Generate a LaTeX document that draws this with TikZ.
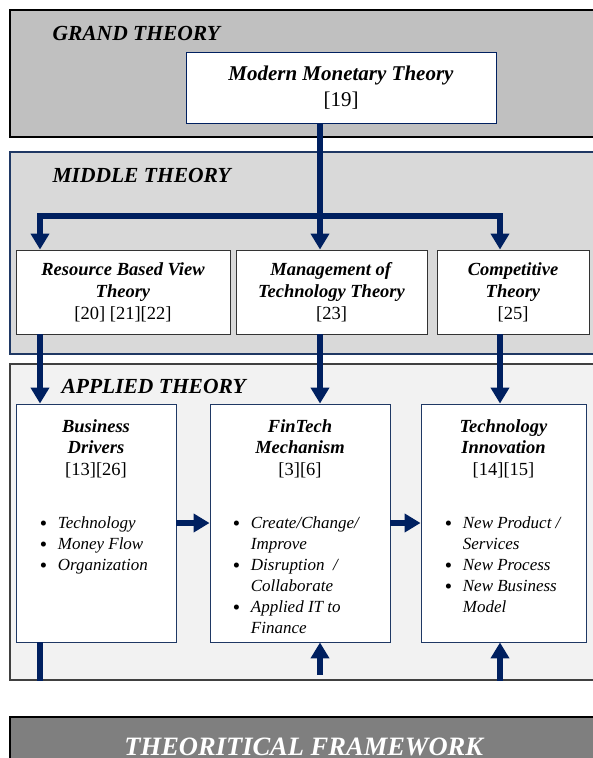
\documentclass[tikz,border=0pt]{standalone}
\usepackage{fontspec}
\setmainfont{Liberation Serif}
\usetikzlibrary{arrows.meta, positioning, calc}

\definecolor{navy}{HTML}{002060}
\definecolor{boxblue}{HTML}{1F3864}
\definecolor{grandgray}{HTML}{C0C0C0}
\definecolor{middlegray}{HTML}{D9D9D9}
\definecolor{appliedgray}{HTML}{F2F2F2}
\definecolor{framegray}{HTML}{7F7F7F}

\newcommand{\bul}{\raisebox{-2.5pt}{\fontsize{21}{21}\selectfont\textbullet}}

\begin{document}
\begin{tikzpicture}[
    x=1pt, y=-1pt,
    >={Triangle[width=18pt, length=16pt]},
    panel style/.style={rectangle, anchor=north west, inner sep=0pt, minimum width=588pt},
    box style/.style={rectangle, draw=boxblue, fill=white, line width=0.9pt, inner sep=0pt, align=center, font=\fontsize{18.5}{22}\selectfont},
    head style/.style={anchor=west, font=\fontsize{21.5}{24}\selectfont\bfseries\itshape},
    title style/.style={anchor=base, font=\fontsize{18.5}{21.5}\selectfont},
    list style/.style={anchor=base west, font=\fontsize{17}{21}\selectfont\itshape},
    flow style/.style={line width=5.5pt, navy, ->},
    flow line/.style={line width=5.5pt, navy}
]
\useasboundingbox (0,0) rectangle (592,758);

% Draw the panels
\node[panel style, draw=black, fill=grandgray, line width=2pt, minimum height=127pt] (grand) at (9,9) {};
\node[panel style, draw=boxblue, fill=middlegray, line width=2pt, minimum height=202pt] (middle) at (9,151) {};
\node[panel style, draw=black!75, fill=appliedgray, line width=1.5pt, minimum height=316pt] (applied) at (9,363) {};
\node[panel style, draw=black, fill=framegray, line width=1.5pt, minimum height=60pt, text=white,
      font=\fontsize{26.5}{30}\selectfont\bfseries\itshape] (frame) at (9,716) {THEORITICAL FRAMEWORK};

% Panel headings
\node[head style] (grandlbl) at (49,33) {GRAND THEORY};
\node[head style] (middlelbl) at (49,175) {MIDDLE THEORY};
\node[head style] (appliedlbl) at (58,386) {APPLIED THEORY};

% Grand theory box
\node[box style, draw=navy, minimum width=310pt, minimum height=71pt, font=\fontsize{21}{26}\selectfont] (mmt) at (341,87.5)
    {\textbf{\textit{Modern Monetary Theory}}\\{}[19]};

% Middle theory boxes
\node[box style, draw=black!80, minimum width=214pt, minimum height=84pt] (rbv) at (123,292)
    {\textbf{\textit{Resource Based View}}\\\textbf{\textit{Theory}}\\{}[20] [21][22]};
\node[box style, draw=black!80, minimum width=191pt, minimum height=84pt] (mtt) at (331.5,292)
    {\textbf{\textit{Management of}}\\\textbf{\textit{Technology Theory}}\\{}[23]};
\node[box style, draw=black!80, minimum width=152pt, minimum height=84pt] (ct) at (513,292)
    {\textbf{\textit{Competitive}}\\\textbf{\textit{Theory}}\\{}[25]};

% Applied theory boxes
\node[box style, minimum width=160pt, minimum height=238pt] (bd) at (96,523) {};
\node[box style, minimum width=180pt, minimum height=238pt] (fm) at (300,523) {};
\node[box style, minimum width=165pt, minimum height=238pt] (ti) at (503.5,523) {};

% Titles of the applied boxes
\node[title style] (bdtitle) at (bd.north |- 0,432)
    {\begin{tabular}[t]{@{}c@{}}\textbf{\textit{Business}}\\\textbf{\textit{Drivers}}\\{}[13][26]\end{tabular}};
\node[title style] (fmtitle) at (fm.north |- 0,432)
    {\begin{tabular}[t]{@{}c@{}}\textbf{\textit{FinTech}}\\\textbf{\textit{Mechanism}}\\{}[3][6]\end{tabular}};
\node[title style] (tititle) at (ti.north |- 0,432)
    {\begin{tabular}[t]{@{}c@{}}\textbf{\textit{Technology}}\\\textbf{\textit{Innovation}}\\{}[14][15]\end{tabular}};

% Bullet lists
\node[list style] (bdlist) at (36,528)
    {\begin{tabular}[t]{@{}l@{\hspace{11pt}}l@{}}\bul & Technology\\\bul & Money Flow\\\bul & Organization\end{tabular}};
\node[list style] (fmlist) at (229,528)
    {\begin{tabular}[t]{@{}l@{\hspace{11pt}}l@{}}\bul & Create/Change/\\ & Improve\\\bul & Disruption~~/\\ & Collaborate\\\bul & Applied IT to\\ & Finance\end{tabular}};
\node[list style] (tilist) at (441,528)
    {\begin{tabular}[t]{@{}l@{\hspace{11pt}}l@{}}\bul & New Product /\\ & Services\\\bul & New Process\\\bul & New Business\\ & Model\end{tabular}};

% Connectors
\coordinate (hub) at (320,216);
\coordinate (hubl) at (40,216);
\coordinate (hubr) at (500,216);
\draw[flow line] (hub |- mmt.south) -- (hub);
\draw[flow style, <->] (hubl |- rbv.north) -- (hubl) -- (hubr) -- (hubr |- ct.north);
\draw[flow style] (hub) -- (hub |- mtt.north);

\draw[flow style] (hubl |- rbv.south) -- (hubl |- bd.north);
\draw[flow style] (hub |- mtt.south) -- (hub |- fm.north);
\draw[flow style] (hubr |- ct.south) -- (hubr |- ti.north);

\draw[flow style] (bd.east) -- (fm.west);
\draw[flow style] (fm.east) -- (ti.west);

\draw[flow line] (hubl |- bd.south) -- (hubl |- applied.south);
\draw[flow style] ($(hub |- applied.south)+(0,-6)$) -- (hub |- fm.south);
\draw[flow style] (hubr |- applied.south) -- (hubr |- ti.south);
\end{tikzpicture}
\end{document}
